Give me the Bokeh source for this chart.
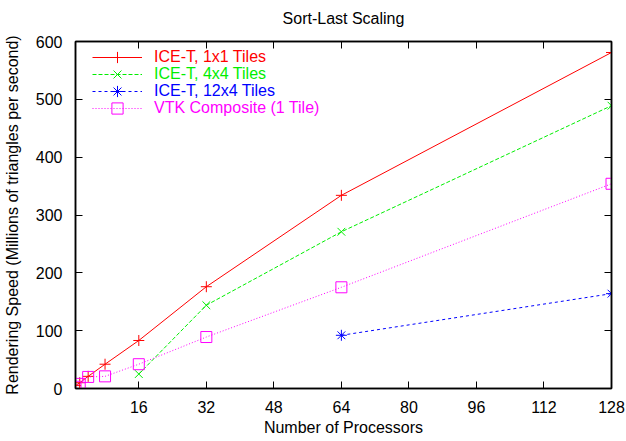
from bokeh.plotting import figure
from bokeh.models import (Range1d, FixedTicker, LinearAxis, Legend, LegendItem)
from bokeh.embed import file_html
from bokeh.resources import INLINE

# ---- data ----
procs_1x1 = [1, 2, 4, 8, 16, 32, 64, 128]
speed_1x1 = [5, 10, 21, 42, 83, 176, 334, 581]

procs_4x4 = [16, 32, 64, 128]
speed_4x4 = [25, 144, 271, 489]

procs_12x4 = [64, 128]
speed_12x4 = [92, 164]

procs_vtk = [1, 2, 4, 8, 16, 32, 64, 128]
speed_vtk = [3, 8, 20, 21, 42, 89, 175, 354]

x_ticks = [16, 32, 48, 64, 80, 96, 112, 128]
y_ticks = [0, 100, 200, 300, 400, 500, 600]

labels = ["ICE-T, 1x1 Tiles", "ICE-T, 4x4 Tiles", "ICE-T, 12x4 Tiles", "VTK Composite (1 Tile)"]
colors = ["#ff0000", "#00ee00", "#0000ff", "#ff00ff"]
dashes = ["solid", "4 2", "3 3", "1 2"]
markers = ["cross", "x", "asterisk", "square"]

FONT = "Liberation Sans"
FS = "16px"

p = figure(width=626, height=441, output_backend="svg", toolbar_location=None,
           x_range=Range1d(1, 128), y_range=Range1d(0, 600),
           min_border_left=74, min_border_right=15, min_border_top=41, min_border_bottom=53,
           title="Sort-Last Scaling")
p.title.text_font = FONT
p.title.text_font_size = FS
p.title.text_font_style = "normal"
p.title.align = "center"
p.title.text_color = "#000000"
p.title.standoff = 2

p.xgrid.visible = False
p.ygrid.visible = False
p.outline_line_color = "#000000"
p.outline_line_width = 1.5

for ax, ticks in ((p.xaxis[0], x_ticks), (p.yaxis[0], y_ticks)):
    ax.ticker = FixedTicker(ticks=ticks)
    ax.major_tick_in = 7
    ax.major_tick_out = 0
    ax.minor_tick_line_color = None
    ax.axis_line_color = "#000000"
    ax.axis_line_width = 1.5
    ax.major_tick_line_color = "#000000"
    ax.major_label_text_font = FONT
    ax.major_label_text_font_size = FS
    ax.major_label_text_color = "#000000"
    ax.axis_label_text_font = FONT
    ax.axis_label_text_font_size = FS
    ax.axis_label_text_font_style = "normal"
    ax.axis_label_text_color = "#000000"

p.xaxis[0].axis_label = "Number of Processors"
p.yaxis[0].axis_label = "Rendering Speed (Millions of triangles per second)"
p.xaxis[0].major_label_standoff = 12
p.yaxis[0].major_label_standoff = 13
p.xaxis[0].axis_label_standoff = 3
p.yaxis[0].axis_label_standoff = 12

# mirrored ticks on top and right
for ticks, side in ((x_ticks, "above"), (y_ticks, "right")):
    ax = LinearAxis(ticker=FixedTicker(ticks=ticks))
    ax.major_tick_in = 7
    ax.major_tick_out = 0
    ax.minor_tick_line_color = None
    ax.axis_line_color = "#000000"
    ax.axis_line_width = 1.5
    ax.major_label_overrides = {t: "" for t in ticks}
    ax.major_label_text_font_size = "0px"
    ax.major_label_standoff = 0
    p.add_layout(ax, side)

# invisible spacer axis that lifts the title away from the frame
spacer = LinearAxis(ticker=FixedTicker(ticks=x_ticks))
spacer.major_tick_in = 0
spacer.major_tick_out = 14
spacer.major_tick_line_color = None
spacer.minor_tick_line_color = None
spacer.axis_line_color = None
spacer.major_label_overrides = {t: "" for t in x_ticks}
spacer.major_label_text_font_size = "0px"
spacer.major_label_standoff = 0
p.add_layout(spacer, "above")

series = [(procs_1x1, speed_1x1), (procs_4x4, speed_4x4),
          (procs_12x4, speed_12x4), (procs_vtk, speed_vtk)]

legend_y = [317, 300, 283, 266]
for (xs, ys), lab, col, dash, mk, ly in zip(series, labels, colors, dashes, markers, legend_y):
    lr = p.line(xs, ys, line_color=col, line_width=1, line_dash=dash)
    sr = p.scatter(xs, ys, marker=mk, size=11, line_color=col, fill_color=None, line_width=1)
    leg = Legend(items=[LegendItem(label=lab, renderers=[lr, sr])],
                 location=(17, ly), orientation="vertical",
                 padding=0, margin=0, spacing=0,
                 glyph_width=50, glyph_height=28, label_height=28,
                 label_standoff=12,
                 border_line_color=None, background_fill_alpha=0,
                 label_text_font=FONT, label_text_font_size=FS,
                 label_text_color=col)
    p.add_layout(leg, "center")

open("out.html", "w").write(file_html(p, INLINE))
